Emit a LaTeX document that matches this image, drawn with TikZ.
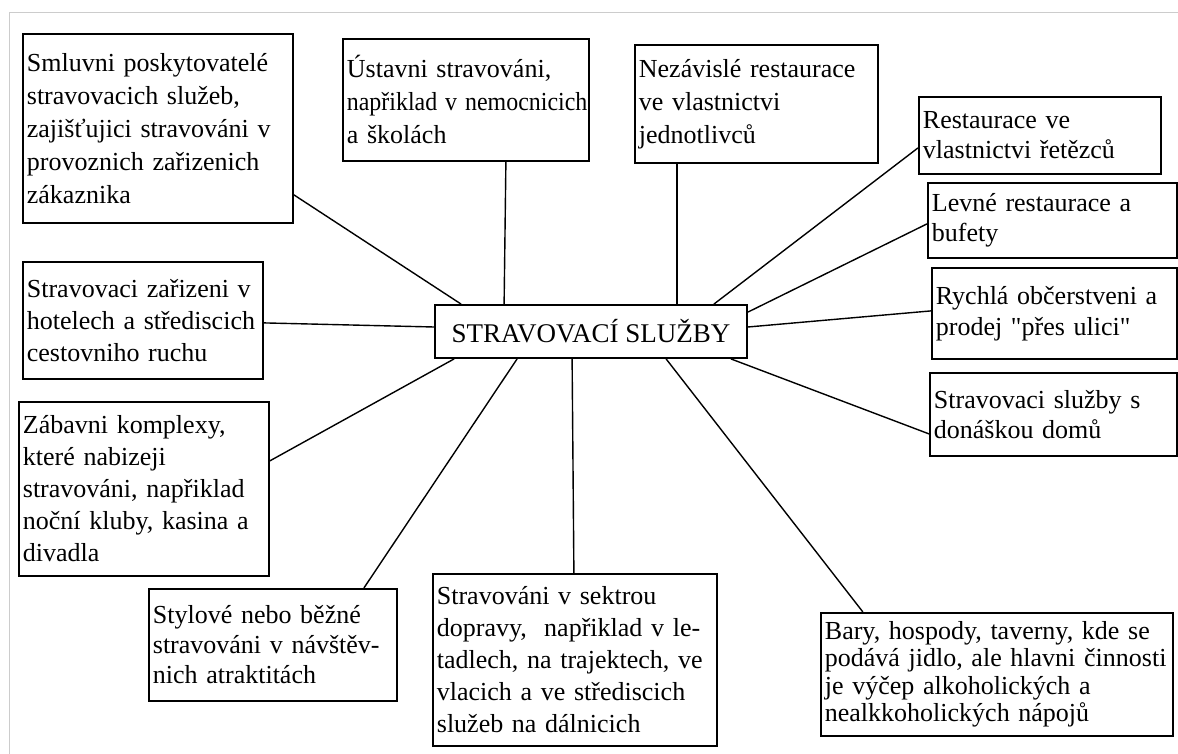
\documentclass[tikz,border=0pt]{standalone}
\usepackage{fontspec}
\setmainfont{Liberation Serif}[Ligatures=TeXOff]
\begin{document}
\begin{tikzpicture}[x=1pt, y=-1pt,
  box/.style={draw, line width=1.8pt, inner xsep=4pt, inner ysep=0pt, align=left, anchor=north west, font=\fontsize{26}{33}\selectfont},
  link/.style={line width=1.4pt}]
\useasboundingbox (0,0) rectangle (1178,754);
\draw[black!20, line width=1pt] (9,754) -- (9,13) -- (1178,13);
\node[box, anchor=center, minimum width=312, minimum height=53, font=\fontsize{27}{31}\selectfont] (srv0) at (591,331.5) {STRAVOVACÍ SLUŽBY};
\node[box, text width=262, minimum height=189] (srv1) at (22,33) {Smluvni poskytovatelé\\ stravovacich služeb,\\ zajišťujici stravováni v\\ provoznich zařizenich\\ zákaznika};
\node[box, text width=238, minimum height=122] (srv2) at (342,38) {Ústavni stravováni,\\ \scalebox{0.92}[1]{napřiklad v nemocnicich}\\ a školách};
\node[box, text width=235, minimum height=118] (srv3) at (634,44) {Nezávislé restaurace\\ ve vlastnictvi\\ jednotlivců};
\node[box, text width=234, minimum height=77, font=\fontsize{26}{30}\selectfont] (srv4) at (918,96) {Restaurace ve\\ vlastnictvi řetězců};
\node[box, text width=241, minimum height=75, font=\fontsize{26}{30}\selectfont] (srv5) at (927,182) {Levné restaurace a\\ bufety};
\node[box, text width=237, minimum height=91, font=\fontsize{26}{31}\selectfont] (srv6) at (931,267) {Rychlá občerstveni a\\ prodej "přes ulici"};
\node[box, text width=239, minimum height=83, font=\fontsize{26}{30}\selectfont] (srv7) at (929,372) {Stravovaci služby s\\ donáškou domů};
\node[box, text width=232, minimum height=117, font=\fontsize{26}{32}\selectfont] (srv8) at (22,261) {Stravovaci zařizeni v\\ hotelech a střediscich\\ cestovniho ruchu};
\node[box, text width=242, minimum height=174, font=\fontsize{26}{32}\selectfont] (srv9) at (18,401) {Zábavni komplexy,\\ které nabizeji\\ stravováni, napřiklad\\ noční kluby, kasina a\\ divadla};
\node[box, text width=240, minimum height=112, font=\fontsize{26}{30}\selectfont] (srv10) at (148,588) {Stylové nebo běžné\\ stravováni v návštěv-\\ nich atraktitách};
\node[box, text width=276, minimum height=172, font=\fontsize{26}{32}\selectfont] (srv11) at (432,573) {Stravováni v sektrou\\ dopravy,~ napřiklad v le-\\ tadlech, na trajektech, ve\\ vlacich a ve střediscich\\ služeb na dálnicich};
\node[box, text width=344, minimum height=123, font=\fontsize{26}{27.5}\selectfont] (srv12) at (820,612) {Bary, hospody, taverny, kde se\\ podává jidlo, ale hlavni činnosti\\ je výčep alkoholických a\\ nealkkoholických nápojů};
\draw[link] ([yshift=29]srv1.south east) -- ([xshift=27]srv0.north west);
\draw[link] ([xshift=40]srv2.south) -- ([xshift=70]srv0.north west);
\draw[link] ([xshift=-79.5]srv3.south) -- ([xshift=-71]srv0.north east);
\draw[link] ([yshift=-12.5]srv4.west) -- ([xshift=-34]srv0.north east);
\draw[link] ([yshift=-3.5]srv5.west) -- ([yshift=-8]srv0.north east);
\draw[link] ([yshift=2.5]srv6.west) -- ([yshift=4.5]srv0.east);
\draw[link] ([yshift=-19.5]srv7.west) -- ([xshift=-17]srv0.south east);
\draw[link] ([yshift=-2.5]srv8.east) -- ([yshift=4.5]srv0.west);
\draw[link] ([yshift=28]srv9.east) -- ([xshift=20]srv0.south west);
\draw[link] ([xshift=91]srv10.north) -- ([xshift=83]srv0.south west);
\draw[link] ([xshift=-1]srv11.north) -- ([xshift=138]srv0.south west);
\draw[link] ([xshift=-134]srv12.north) -- ([xshift=232]srv0.south west);
\end{tikzpicture}
\end{document}
